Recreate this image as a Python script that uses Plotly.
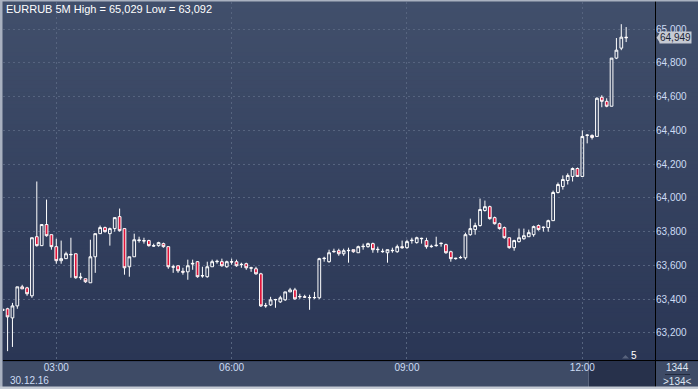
import plotly.graph_objects as go
import pandas as pd

# ---------------- data ----------------
symbol_title = "EURRUB 5M High = 65,029 Low = 63,092"
date_label = "30.12.16"
start_time = "2016-12-30 02:05"

opens = [63333, 63343, 63289, 63360, 63473, 63467, 63420, 63770, 63717, 63842,
         63782, 63711, 63628, 63640, 63663, 63669, 63527, 63521, 63497, 63651,
         63788, 63824, 63788, 63818, 63889, 63818, 63592, 63651, 63747, 63747,
         63747, 63717, 63717, 63729, 63711, 63592, 63598, 63565, 63562, 63608,
         63622, 63540, 63533, 63592, 63622, 63622, 63592, 63622, 63622, 63604,
         63610, 63586, 63580, 63550, 63360, 63366, 63396, 63384, 63396, 63443,
         63455, 63414, 63414, 63408, 63408, 63408, 63640, 63622, 63681, 63687,
         63669, 63687, 63693, 63675, 63711, 63711, 63729, 63693, 63681, 63675,
         63687, 63681, 63711, 63705, 63747, 63735, 63758, 63747, 63711, 63717,
         63729, 63723, 63681, 63640, 63645, 63645, 63782, 63812, 63836, 63925,
         63948, 63883, 63847, 63824, 63764, 63705, 63741, 63758, 63770, 63782,
         63836, 63824, 63824, 63865, 64032, 64067, 64103, 64127, 64174, 64127,
         64370, 64370, 64364, 64596, 64572, 64543, 64828, 64887, 64952]
highs = [63343, 63349, 63378, 63473, 63485, 63473, 63764, 64097, 63842, 63990,
         63782, 63758, 63747, 63681, 63764, 63669, 63556, 63521, 63752, 63788,
         63836, 63830, 63824, 63883, 63937, 63818, 63651, 63788, 63770, 63764,
         63752, 63729, 63740, 63735, 63711, 63604, 63598, 63586, 63634, 63634,
         63625, 63592, 63622, 63634, 63634, 63640, 63628, 63640, 63634, 63616,
         63616, 63592, 63592, 63556, 63378, 63414, 63402, 63420, 63443, 63467,
         63467, 63432, 63426, 63426, 63443, 63645, 63651, 63693, 63699, 63699,
         63699, 63705, 63693, 63717, 63729, 63735, 63735, 63711, 63699, 63693,
         63705, 63723, 63747, 63752, 63764, 63770, 63764, 63764, 63723, 63770,
         63735, 63729, 63687, 63645, 63657, 63794, 63877, 63853, 63996, 63984,
         63954, 63889, 63853, 63830, 63764, 63752, 63818, 63818, 63812, 63836,
         63842, 63830, 63871, 64043, 64091, 64133, 64145, 64180, 64180, 64400,
         64376, 64376, 64596, 64608, 64590, 64828, 64947, 65029, 65012]
lows = [63330, 63092, 63117, 63343, 63461, 63420, 63408, 63711, 63717, 63770,
        63693, 63610, 63610, 63640, 63527, 63521, 63515, 63497, 63497, 63556,
        63788, 63794, 63717, 63800, 63800, 63545, 63533, 63651, 63735, 63729,
        63711, 63711, 63711, 63705, 63580, 63556, 63556, 63545, 63515, 63574,
        63527, 63527, 63527, 63592, 63610, 63592, 63586, 63604, 63592, 63586,
        63574, 63562, 63545, 63354, 63349, 63360, 63349, 63378, 63390, 63443,
        63396, 63402, 63408, 63337, 63402, 63402, 63622, 63616, 63675, 63657,
        63657, 63616, 63675, 63675, 63693, 63705, 63675, 63675, 63675, 63616,
        63675, 63675, 63699, 63699, 63729, 63729, 63729, 63699, 63705, 63711,
        63711, 63669, 63622, 63634, 63640, 63634, 63776, 63782, 63830, 63919,
        63871, 63842, 63812, 63758, 63699, 63687, 63735, 63752, 63770, 63770,
        63806, 63800, 63800, 63865, 64026, 64049, 64079, 64097, 64127, 64127,
        64323, 64346, 64364, 64537, 64537, 64543, 64822, 64875, 64923]
closes = [63340, 63295, 63360, 63473, 63461, 63432, 63764, 63717, 63842, 63776,
          63711, 63628, 63640, 63669, 63665, 63527, 63530, 63503, 63651, 63788,
          63824, 63800, 63818, 63883, 63806, 63586, 63651, 63752, 63750, 63745,
          63717, 63715, 63735, 63711, 63592, 63590, 63568, 63560, 63598, 63612,
          63533, 63538, 63592, 63622, 63624, 63598, 63622, 63620, 63598, 63606,
          63586, 63584, 63550, 63360, 63362, 63396, 63398, 63408, 63443, 63455,
          63402, 63416, 63412, 63410, 63410, 63640, 63642, 63675, 63683, 63669,
          63687, 63689, 63681, 63711, 63713, 63729, 63693, 63695, 63683, 63693,
          63689, 63711, 63705, 63741, 63749, 63764, 63760, 63711, 63713, 63719,
          63731, 63675, 63640, 63642, 63647, 63782, 63818, 63836, 63931, 63948,
          63877, 63847, 63818, 63764, 63705, 63747, 63764, 63776, 63794, 63830,
          63812, 63826, 63865, 64032, 64079, 64109, 64133, 64174, 64127, 64364,
          64372, 64358, 64590, 64572, 64543, 64828, 64875, 64952, 64949]

price_ticks = [63200, 63400, 63600, 63800, 64000, 64200, 64400, 64600, 64800, 65000]
time_ticks = ["2016-12-30 03:00", "2016-12-30 06:00", "2016-12-30 09:00", "2016-12-30 12:00"]
time_tick_labels = ["03:00", "06:00", "09:00", "12:00"]
x_range = ["2016-12-30 02:05:18", "2016-12-30 13:14:36"]
y_range = [63039.6, 65160.4]
bars_label = "5"
counter_top = "1344"
counter_bottom = ">134<"

times = pd.date_range(start_time, periods=len(opens), freq="5min")

# ---------------- layout geometry (pixels) ----------------
W, H = 698, 389
ML, MR, MT, MB = 3, 43, 2, 29
PW = W - ML - MR
PH = H - MT - MB


def px(x):
    return (x - ML) / PW


def py(y):
    return (H - MB - y) / PH


FONT = "Liberation Sans, Arial, sans-serif"
LABEL_COL = "#cddcf4"

fig = go.Figure()
fig.add_trace(go.Candlestick(
    x=times, open=opens, high=highs, low=lows, close=closes,
    increasing=dict(line=dict(color="#ffffff", width=1), fillcolor="rgba(0,0,0,0)"),
    decreasing=dict(line=dict(color="#ffffff", width=1), fillcolor="#e0143a"),
    whiskerwidth=0, hoverinfo="skip", showlegend=False,
))

shapes = []
# vertical gradient background for chart + right axis panel
top_c = (65, 79, 107)
bot_c = (42, 54, 85)
n_bands = 90
y_top_px, y_bot_px = 0, 361
for i in range(n_bands):
    t = i / (n_bands - 1)
    c = tuple(round(top_c[k] + (bot_c[k] - top_c[k]) * t) for k in range(3))
    y0 = y_top_px + (y_bot_px - y_top_px) * i / n_bands
    y1 = y_top_px + (y_bot_px - y_top_px) * (i + 1) / n_bands
    shapes.append(dict(type="rect", xref="paper", yref="paper", layer="below",
                       x0=px(0), x1=px(W), y0=py(y1 + 0.5), y1=py(y0),
                       line=dict(width=0), fillcolor="rgb(%d,%d,%d)" % c))
# dark scroll block in the time-axis panel
shapes.append(dict(type="rect", xref="paper", yref="paper", layer="below",
                   x0=px(588), x1=px(655), y0=py(387), y1=py(361),
                   line=dict(width=0), fillcolor="#27314b"))
shapes.append(dict(type="line", xref="paper", yref="paper", layer="below",
                   x0=px(588.5), x1=px(588.5), y0=py(387), y1=py(361),
                   line=dict(color="#59647c", width=1)))
# separator line in the counter box
shapes.append(dict(type="line", xref="paper", yref="paper",
                   x0=px(665), x1=px(690), y0=py(374.5), y1=py(374.5),
                   line=dict(color="#222a3e", width=1)))
# black frame lines
shapes.append(dict(type="line", xref="paper", yref="paper",
                   x0=px(655.5), x1=px(655.5), y0=py(387), y1=py(0),
                   line=dict(color="#000000", width=1)))
shapes.append(dict(type="line", xref="paper", yref="paper",
                   x0=px(3), x1=px(W), y0=py(360.5), y1=py(360.5),
                   line=dict(color="#000000", width=1)))
# outer light frame
shapes.append(dict(type="rect", xref="paper", yref="paper",
                   x0=px(0), x1=px(2.5), y0=py(H), y1=py(0),
                   line=dict(width=0), fillcolor="#a9b1c0"))
shapes.append(dict(type="rect", xref="paper", yref="paper",
                   x0=px(0), x1=px(W), y0=py(1.5), y1=py(0),
                   line=dict(width=0), fillcolor="#a9b1c0"))
shapes.append(dict(type="rect", xref="paper", yref="paper",
                   x0=px(0), x1=px(W), y0=py(H), y1=py(386.5),
                   line=dict(width=0), fillcolor="#c4cad4"))
# small triangle before the "5" label
shapes.append(dict(type="path", xref="paper", yref="paper",
                   path="M %f %f L %f %f L %f %f Z" % (px(622), py(358.5), px(629), py(358.5), px(625.5), py(355)),
                   line=dict(width=0), fillcolor="#58637d"))

# last price tag arrow
last_close = closes[-1]
y_span = y_range[1] - y_range[0]
half = 5 * y_span / PH
shapes.append(dict(type="path", xref="paper", yref="y",
                   path="M %f %f L %f %f L %f %f Z" % (px(656.5), last_close, px(660), last_close + half,
                                                       px(660), last_close - half),
                   line=dict(width=0), fillcolor="#c6cad3"))

annotations = [
    dict(text=symbol_title, xref="paper", yref="paper", x=px(4), y=py(9),
         xanchor="left", yanchor="middle", showarrow=False,
         font=dict(family=FONT, size=11, color="#ffffff")),
    dict(text=date_label, xref="paper", yref="paper", x=px(29), y=py(380),
         xanchor="center", yanchor="middle", showarrow=False,
         font=dict(family=FONT, size=10, color=LABEL_COL)),
    dict(text=bars_label, xref="paper", yref="paper", x=px(634), y=py(355),
         xanchor="center", yanchor="middle", showarrow=False,
         font=dict(family=FONT, size=10, color="#ffffff")),
    dict(text=counter_top, xref="paper", yref="paper", x=px(677), y=py(367.5),
         xanchor="center", yanchor="middle", showarrow=False,
         font=dict(family=FONT, size=10, color="#dfe6f2")),
    dict(text=counter_bottom, xref="paper", yref="paper", x=px(677), y=py(381),
         xanchor="center", yanchor="middle", showarrow=False,
         font=dict(family=FONT, size=10, color="#dfe6f2")),
    dict(text=f"{last_close:,}", xref="paper", yref="y", x=px(659.5), y=last_close,
         xanchor="left", yanchor="middle", showarrow=False, bgcolor="#c6cad3",
         borderpad=0, font=dict(family=FONT, size=10, color="#1b2436")),
]

fig.update_layout(
    width=W, height=H,
    margin=dict(l=ML, r=MR, t=MT, b=MB, pad=0),
    paper_bgcolor="#3e4b66",
    plot_bgcolor="rgba(0,0,0,0)",
    showlegend=False,
    boxgap=0.2,
    shapes=shapes,
    annotations=annotations,
    xaxis=dict(
        type="date", range=x_range, rangeslider=dict(visible=False),
        tickvals=time_ticks, ticktext=time_tick_labels,
        showgrid=True, gridcolor="#56647f", griddash="2px,3px", gridwidth=1,
        zeroline=False, showline=False, ticks="",
        tickfont=dict(family=FONT, size=10, color=LABEL_COL),
    ),
    yaxis=dict(
        side="right", range=y_range, tickvals=price_ticks, tickformat=",d",
        showgrid=True, gridcolor="#56647f", griddash="2px,3px", gridwidth=1,
        zeroline=False, showline=False, ticks="",
        tickfont=dict(family=FONT, size=10, color=LABEL_COL),
    ),
)

fig.write_html(
    "out.html",
    config={"displayModeBar": False, "staticPlot": True},
    post_script="document.body.style.margin='0';document.body.style.padding='0';document.body.style.overflow='hidden';",
)
